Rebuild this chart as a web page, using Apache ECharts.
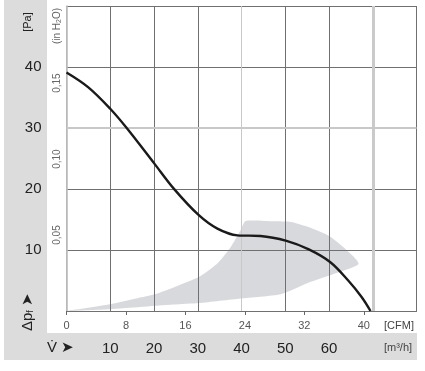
<!DOCTYPE html>
<html>
<head>
<meta charset="utf-8">
<script src="https://cdn.jsdelivr.net/npm/echarts@6/dist/echarts.min.js"></script>
<style>html,body{margin:0;padding:0;background:#fff}#c{width:425px;height:371px}</style>
</head>
<body>
<div id="c"></div>
<script>
// Fan curve (flow in CFM, pressure in Pa)
const curveCFM = [0, 2.9, 5.85, 8.1, 11.8, 14.4, 17.8, 20.3, 23.0, 26.1, 29.6, 32.6, 35.5, 37.9, 39.7, 40.9];
const curvePa  = [39.1, 36.7, 33.2, 30.0, 24.2, 20.1, 15.7, 13.5, 12.4, 12.3, 11.5, 10.1, 8.0, 5.0, 2.3, 0];

// Shaded operating region: upper edge then lower edge back to origin (CFM, Pa)
const regionUpperCFM = [0, 5.85, 9.9, 11.9, 14.4, 17.85, 20.3, 22.1, 23.4, 24.1, 27.9, 30.2, 32.45, 35.6, 39.3];
const regionUpperPa  = [0, 1.1, 2.2, 2.75, 3.85, 5.6, 7.8, 10.5, 13.2, 14.75, 14.7, 14.6, 13.8, 12.1, 7.8];
const regionLowerCFM = [36.0, 32.45, 28.8, 23.4, 17.85, 14.4, 9.9, 5.85, 0];
const regionLowerPa  = [6.1, 4.6, 2.75, 2.05, 1.3, 1.05, 0.65, 0.3, 0];

// Axes
const flowMax = 80;            // m3/h
const flowInterval = 10;
const flowLabels = [10, 20, 30, 40, 50, 60];
const cfmPerM3h = 1 / 1.699;
const cfmInterval = 8;
const cfmLabels = [0, 8, 16, 24, 32, 40];
const paMax = 50;
const paInterval = 10;
const paLabels = [10, 20, 30, 40];
const paPerInH2O = 249.089;
const inH2OInterval = 0.05;
const inH2OLabels = [0.05, 0.10, 0.15];

// Highlighted (light) grid lines
const lightFlowLines = [70];
const lightPressureLines = [30];

const FONT = '"Liberation Sans", Arial, sans-serif';
const DARK = '#707070';
const LIGHT = '#c8c8c8';

const chart = echarts.init(document.getElementById('c'), null, {renderer: 'canvas'});

const regionPts = [];
regionUpperCFM.forEach((x, i) => regionPts.push([x, regionUpperPa[i]]));
regionLowerCFM.forEach((x, i) => regionPts.push([x, regionLowerPa[i]]));

const xSplitColors = [];
for (let v = 0; v <= flowMax; v += flowInterval) {
  xSplitColors.push(v === 0 ? '#b8b8b8' : (v === 40 || v === 70 ? LIGHT : DARK));
}
const ySplitColors = [];
for (let v = 0; v <= paMax; v += paInterval) {
  ySplitColors.push(v === 30 ? LIGHT : DARK);
}

chart.setOption({
  animation: false,
  backgroundColor: '#fff',
  textStyle: {fontFamily: FONT},
  grid: {left: 66.5, right: 8.5, top: 6, bottom: 60, containLabel: false},
  graphic: [
    {type: 'rect', z: -100, shape: {x: 4, y: 0, width: 43, height: 334}, style: {fill: '#dcdcdc'}},
    {type: 'rect', z: -100, shape: {x: 4, y: 333, width: 413, height: 27}, style: {fill: '#dcdcdc'}},
    {type: 'text', x: 28, y: 22, rotation: Math.PI / 2,
      style: {text: '[Pa]', font: '11px ' + FONT, fill: '#222', align: 'center', verticalAlign: 'middle'}},
    {type: 'text', x: 57, y: 26, rotation: Math.PI / 2,
      style: {text: '(in H{s|2}O)', font: '10px ' + FONT, fill: '#666', align: 'center', verticalAlign: 'middle',
        rich: {s: {fontSize: 7, fill: '#666', verticalAlign: 'bottom', padding: [4, 0, 0, 0]}}}},
    {type: 'text', x: 28, y: 312, rotation: Math.PI / 2,
      style: {text: 'Δp{s|f} ➤', font: '15px ' + FONT, fill: '#222', align: 'center', verticalAlign: 'middle',
        rich: {s: {fontSize: 9, fill: '#222', verticalAlign: 'bottom', padding: [5, 0, 0, 0]}}}},
    {type: 'text', x: 47, y: 348,
      style: {text: 'V̇ ➤', font: '15px ' + FONT, fill: '#222', align: 'left', verticalAlign: 'middle'}},
    {type: 'text', x: 399, y: 326,
      style: {text: '[CFM]', font: '11px ' + FONT, fill: '#444', align: 'center', verticalAlign: 'middle'}},
    {type: 'text', x: 398, y: 348,
      style: {text: '[m³/h]', font: '11px ' + FONT, fill: '#444', align: 'center', verticalAlign: 'middle'}}
  ],
  xAxis: [
    {
      type: 'value', min: 0, max: flowMax, interval: flowInterval, position: 'bottom', z: 3,
      axisLine: {show: true, lineStyle: {color: DARK, width: 1}},
      axisTick: {show: false},
      splitLine: {show: true, lineStyle: {color: xSplitColors, width: 1}},
      axisLabel: {
        margin: 30, fontSize: 15, color: '#222', fontFamily: FONT,
        formatter: v => (flowLabels.indexOf(v) >= 0 ? String(v) : '')
      }
    },
    {
      type: 'value', min: 0, max: flowMax * cfmPerM3h, interval: cfmInterval, position: 'bottom', z: 3,
      axisLine: {show: false},
      axisTick: {show: true, length: 4, inside: false, lineStyle: {color: '#666'}},
      splitLine: {show: false},
      axisLabel: {
        margin: 9, fontSize: 11, color: '#555', fontFamily: FONT, showMaxLabel: false,
        formatter: v => (cfmLabels.indexOf(Math.round(v)) >= 0 && Math.abs(v - Math.round(v)) < 1e-6 ? String(Math.round(v)) : '')
      }
    }
  ],
  yAxis: [
    {
      type: 'value', min: 0, max: paMax, interval: paInterval, position: 'left', z: 3,
      axisLine: {show: true, lineStyle: {color: '#b8b8b8', width: 1.5}},
      axisTick: {show: false},
      splitLine: {show: true, lineStyle: {color: ySplitColors, width: 1}},
      axisLabel: {
        margin: 25, fontSize: 15, color: '#222', fontFamily: FONT,
        formatter: v => (paLabels.indexOf(v) >= 0 ? String(v) : '')
      }
    },
    {
      type: 'value', min: 0, max: paMax / paPerInH2O, interval: inH2OInterval, position: 'left', z: 3,
      axisLine: {show: false},
      axisTick: {show: false},
      splitLine: {show: false},
      axisLabel: {
        margin: 4, rotate: 90, fontSize: 10, color: '#666', fontFamily: FONT, showMaxLabel: false,
        formatter: v => {
          const m = inH2OLabels.find(t => Math.abs(t - v) < 1e-6);
          return m === undefined ? '' : m.toFixed(2).replace('.', ',');
        }
      }
    }
  ],
  series: [
    {
      type: 'custom', xAxisIndex: 1, yAxisIndex: 0, z: 1, silent: true,
      data: regionPts,
      renderItem: (params, api) => {
        if (params.dataIndex !== 0) return null;
        const pts = regionPts.map(p => api.coord(p));
        return {type: 'polygon', shape: {points: pts, smooth: 0.2},
          style: {fill: 'rgba(110,115,125,0.27)', stroke: null}};
      }
    },
    {
      type: 'line', xAxisIndex: 0, yAxisIndex: 0, data: [], z: 4, silent: true,
      markLine: {
        silent: true, symbol: 'none', label: {show: false},
        data: [
          ...lightFlowLines.map(v => ({xAxis: v, lineStyle: {color: '#cacaca', width: 3, type: 'solid'}})),
          ...lightPressureLines.map(v => ({yAxis: v, lineStyle: {color: '#c8c8c8', width: 2, type: 'solid'}}))
        ]
      }
    },
    {
      type: 'line', xAxisIndex: 1, yAxisIndex: 0, z: 6, silent: true,
      data: curveCFM.map((x, i) => [x, curvePa[i]]),
      smooth: 0.35, showSymbol: false,
      lineStyle: {color: '#1a1a1a', width: 2.4}
    }
  ]
});
</script>
</body>
</html>
